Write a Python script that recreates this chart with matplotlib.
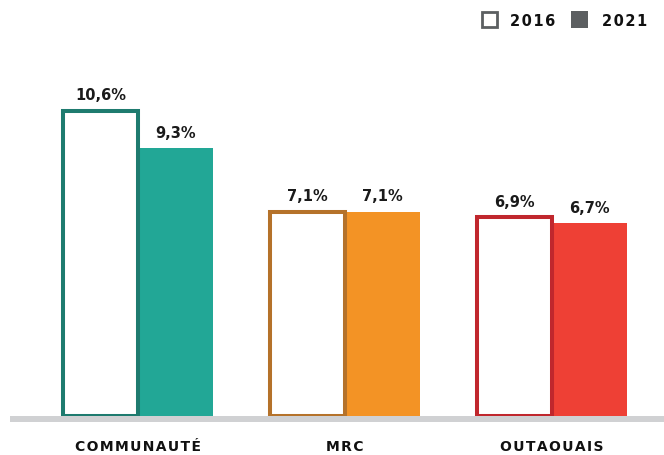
import matplotlib.pyplot as plt
from matplotlib.patches import Rectangle

categories = ["COMMUNAUTÉ", "MRC", "OUTAOUAIS"]
years = ["2016", "2021"]
values_2016 = [10.6, 7.1, 6.9]
values_2021 = [9.3, 7.1, 6.7]
fill_colors = ["#22a796", "#f39325", "#ee4035"]
edge_colors = ["#1e7b6f", "#b5722a", "#c0272d"]

def spaced(s, sep="\u2009"):
    return sep.join(s)

W, H = 664, 456
fig = plt.figure(figsize=(W / 100, H / 100), dpi=100)
px = 28.8  # pixels per percentage point
base_px = 417
ax = fig.add_axes([10 / W, 0, 1 - 10 / W, 1])
ax.set_xlim((10 - 138) / 207, (664 - 138) / 207)
ax.set_ylim(-(H - base_px) / px, base_px / px)
ax.axis("off")

bw = 75 / 207
x = list(range(len(categories)))

for i in x:
    v16, v21 = values_2016[i], values_2021[i]
    ax.bar(i + bw / 2, v21, width=bw, color=fill_colors[i], edgecolor="none", zorder=2)
    ax.bar(i - bw / 2, v16, width=bw, facecolor="white", edgecolor=edge_colors[i],
           linewidth=2.9, zorder=3)
    ax.annotate(f"{v16:.1f}".replace(".", ",") + "%", (i - bw / 2, v16),
                xytext=(0, 6), textcoords="offset points", ha="center", va="bottom",
                fontsize=10.5, fontweight="bold", color="#1a1a1a")
    ax.annotate(f"{v21:.1f}".replace(".", ",") + "%", (i + bw / 2, v21),
                xytext=(0, 6), textcoords="offset points", ha="center", va="bottom",
                fontsize=10.5, fontweight="bold", color="#1a1a1a")
    ax.text(i, -(447 - base_px) / px, spaced(categories[i], "\u200a"), ha="center",
            va="center", fontsize=10, fontweight="bold", color="#111111")

# baseline band
ax.axhspan(-6 / px, 0, color="#d0d1d3", zorder=4, linewidth=0)

# legend
def fig_rect(x0, y0, w, h, **kw):
    r = Rectangle((x0 / W, 1 - (y0 + h) / H), w / W, h / H, transform=fig.transFigure, **kw)
    fig.patches.append(r)

fig_rect(482, 13, 15, 15, facecolor="white", edgecolor="#5c5f61", linewidth=2.0)
fig.text(510 / W, 1 - 21 / H, spaced(years[0], "\u200a"), ha="left", va="center",
         fontsize=10.5, fontweight="bold", color="#111111")
fig_rect(571, 12, 17, 17, facecolor="#5c5f61", edgecolor="none")
fig.text(602 / W, 1 - 21 / H, spaced(years[1], "\u200a"), ha="left", va="center",
         fontsize=10.5, fontweight="bold", color="#111111")

fig.savefig("out.png", dpi=100)
